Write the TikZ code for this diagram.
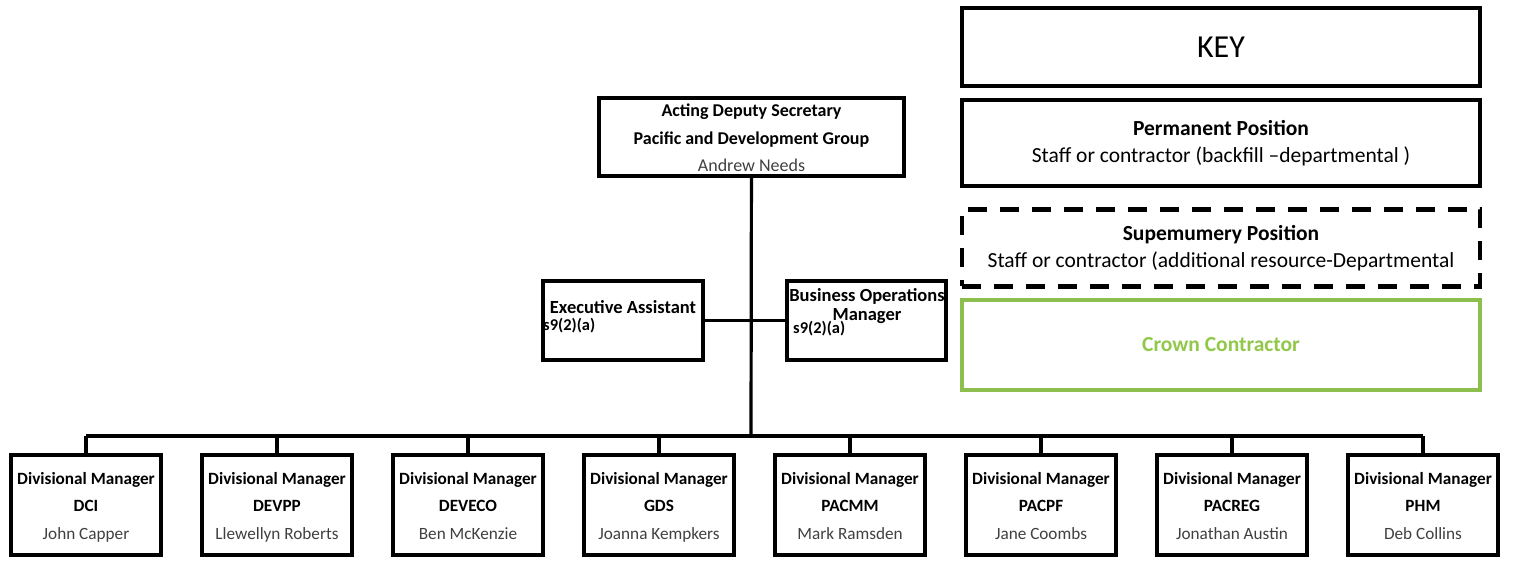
\documentclass[tikz,border=0pt]{standalone}
\usepackage{fontspec}
\setmainfont{Carlito}
\usetikzlibrary{positioning}
\definecolor{Ink}{HTML}{000000}
\definecolor{Muted}{HTML}{404040}
\definecolor{Crown}{HTML}{8CBF4E}
\definecolor{CrownText}{HTML}{92C84A}
\tikzset{
  link/.style={draw=Ink,line width=3.2pt},
  post/.style={draw=Ink,line width=3.2pt,fill=white,align=center,inner sep=0pt,
    font=\fontsize{17.2}{27.5}\selectfont},
  keybox/.style={draw=Ink,line width=4.2pt,fill=white,align=center,inner sep=0pt,
    minimum width=518pt,font=\fontsize{21.5}{27}\selectfont},
  lbl/.style={inner sep=0pt,font=\bfseries\fontsize{18.5}{19}\selectfont}
}
\newcommand{\who}[1]{\textcolor{Muted}{\mdseries #1\vphantom{Dg}}}
\newcommand{\hd}[1]{\textbf{#1\vphantom{Dg}}}

\begin{document}
\begin{tikzpicture}[x=1pt,y=-1pt]
\useasboundingbox (0,0) rectangle (1518,561);

% key
\node[keybox,minimum height=78pt,font=\fontsize{32}{34}\selectfont] (key) at (1221,47) {KEY};
\node[keybox,minimum height=86pt] (perm) at (1221,143)
  {\hd{Permanent Position}\\Staff or contractor (backfill --departmental )\vphantom{Dg}};
\node[keybox,minimum height=77pt,dash pattern=on 19pt off 13pt] (supn) at (1221,248)
  {\hd{Supemumery Position}\\Staff or contractor (additional resource-Departmental\vphantom{Dg}};
\node[keybox,minimum height=90pt,draw=Crown,text=CrownText] (crown) at (1221,345)
  {\textbf{Crown Contractor}};

% head of group
\node[post,minimum width=305pt,minimum height=78pt,font=\fontsize{18}{27.5}\selectfont]
  (head) at (751.5,137) {};
\node[align=center,inner sep=0pt,font=\fontsize{18}{27.5}\selectfont] (headtxt) at (751.5,139.5)
  {\hd{Acting Deputy Secretary}\\\hd{Pacific and Development Group}\\\who{Andrew Needs}};

% support roles
\node[post,minimum width=160pt,minimum height=79pt] (ea) at (623,320.5) {};
\node[post,minimum width=159pt,minimum height=79pt] (bom) at (866.5,320.5) {};
\node[lbl] (eatitle) at (623,307) {Executive Assistant};
\node[lbl,anchor=west,font=\bfseries\fontsize{16.5}{18}\selectfont] (eacode) at (543,326) {s9(2)(a)};
\node[lbl,align=center] (bomtitle) at (867,306.5) {Business Operations\\Manager};
\node[lbl,anchor=west,font=\bfseries\fontsize{16.5}{18}\selectfont] (bomcode) at (793,329) {s9(2)(a)};

% divisional managers
\coordinate (bus) at (751,436);
\foreach \i/\unit/\name in {0/DCI/John Capper,1/DEVPP/Llewellyn Roberts,
  2/DEVECO/Ben McKenzie,3/GDS/Joanna Kempkers,4/PACMM/Mark Ramsden,
  5/PACPF/Jane Coombs,6/PACREG/Jonathan Austin,7/PHM/Deb Collins}
  \node[post,minimum width=150pt,minimum height=100pt] (dm\i) at ({86+191*\i},505) {};
\foreach \i/\unit/\name in {0/DCI/John Capper,1/DEVPP/Llewellyn Roberts,
  2/DEVECO/Ben McKenzie,3/GDS/Joanna Kempkers,4/PACMM/Mark Ramsden,
  5/PACPF/Jane Coombs,6/PACREG/Jonathan Austin,7/PHM/Deb Collins}
  \node[align=center,inner sep=0pt,font=\fontsize{17.2}{27.5}\selectfont] (dmtxt\i)
    at ([yshift=-2pt]dm\i.center) {\hd{Divisional Manager}\\\hd{\unit}\\\who{\name}};

\draw[link] (head) -- (bus);
\draw[link] (ea) -- (bom);
\draw[link] (dm0.north |- bus) -- (dm7.north |- bus);
\foreach \i in {0,...,7}
  \draw[link] (dm\i.north) -- (dm\i.north |- bus);
\end{tikzpicture}
\end{document}
